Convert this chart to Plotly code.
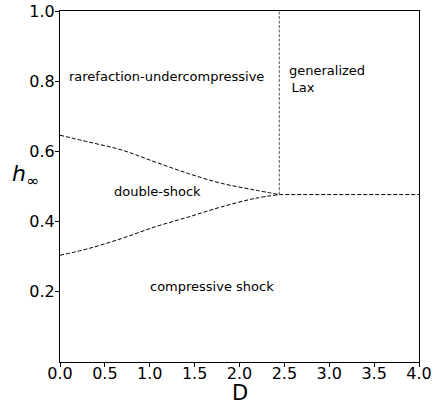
import plotly.graph_objects as go

# Upper boundary of double-shock region
upper_D = [0.0, 0.315, 0.687, 1.058, 1.43, 1.80, 2.17, 2.443]
upper_h = [0.646, 0.627, 0.604, 0.570, 0.537, 0.509, 0.490, 0.477]
# Lower boundary of double-shock region
lower_D = [0.0, 0.315, 0.687, 1.058, 1.43, 1.80, 2.17, 2.443]
lower_h = [0.304, 0.323, 0.352, 0.385, 0.413, 0.442, 0.466, 0.477]
# Vertical boundary (generalized Lax)
vert_D = [2.443, 2.443]
vert_h = [0.477, 1.0]
# Horizontal boundary
horiz_D = [2.443, 4.0]
horiz_h = [0.477, 0.477]

region_labels = ["rarefaction-undercompressive", "generalized<br>\u2009Lax", "double-shock", "compressive shock"]
label_D = [0.08, 2.53, 0.58, 0.98]
label_h = [0.812, 0.805, 0.486, 0.215]

x_ticks = [0.0, 0.5, 1.0, 1.5, 2.0, 2.5, 3.0, 3.5, 4.0]
y_ticks = [0.2, 0.4, 0.6, 0.8, 1.0]

fig = go.Figure()
line_style = dict(color="black", width=1, dash="4px,2px")
fig.add_trace(go.Scatter(x=upper_D, y=upper_h, mode="lines", line=dict(color="black", width=1, dash="4px,2px", shape="spline")))
fig.add_trace(go.Scatter(x=lower_D, y=lower_h, mode="lines", line=dict(color="black", width=1, dash="4px,2px", shape="spline")))
fig.add_trace(go.Scatter(x=vert_D, y=vert_h, mode="lines", line=dict(color="#555555", width=1, dash="3px,1.5px")))
fig.add_trace(go.Scatter(x=horiz_D, y=horiz_h, mode="lines", line=line_style))

for t, xd, yd in zip(region_labels, label_D, label_h):
    fig.add_annotation(x=xd, y=yd, xref="x", yref="y", text=t, showarrow=False,
                       xanchor="left", yanchor="middle", align="left",
                       font=dict(family="DejaVu Sans", size=13, color="black"))

fig.add_annotation(x=-0.095, y=0.53, xref="paper", yref="paper",
                   text="<i>h</i><sub>∞</sub>", showarrow=False,
                   xanchor="center", yanchor="middle",
                   font=dict(family="DejaVu Sans", size=22, color="black"))

fig.add_annotation(x=0.501, y=-0.088, xref="paper", yref="paper",
                   text="D", showarrow=False,
                   xanchor="center", yanchor="middle",
                   font=dict(family="DejaVu Sans", size=21, color="black"))

axis_common = dict(showgrid=False, zeroline=False, showline=True, linecolor="black",
                   linewidth=1, mirror=True, ticks="outside", ticklen=4, tickwidth=1,
                   automargin=False,
                   tickcolor="black", tickfont=dict(family="DejaVu Sans", size=16, color="black"))

fig.update_xaxes(range=[0, 4], tickvals=x_ticks, ticktext=[f"{v:.1f}" for v in x_ticks],
                 ticklabelstandoff=-7, **axis_common)
fig.update_yaxes(range=[0, 1], tickvals=y_ticks, ticktext=[f"{v:.1f}" for v in y_ticks],
                 ticklabelstandoff=-3, **axis_common)

fig.update_layout(width=437, height=402, showlegend=False, template="none",
                  plot_bgcolor="white", paper_bgcolor="white",
                  margin=dict(l=60, r=18, t=11, b=40))

fig.write_html("out.html", config={"displayModeBar": False},
               post_script="document.body.style.margin='0';")
